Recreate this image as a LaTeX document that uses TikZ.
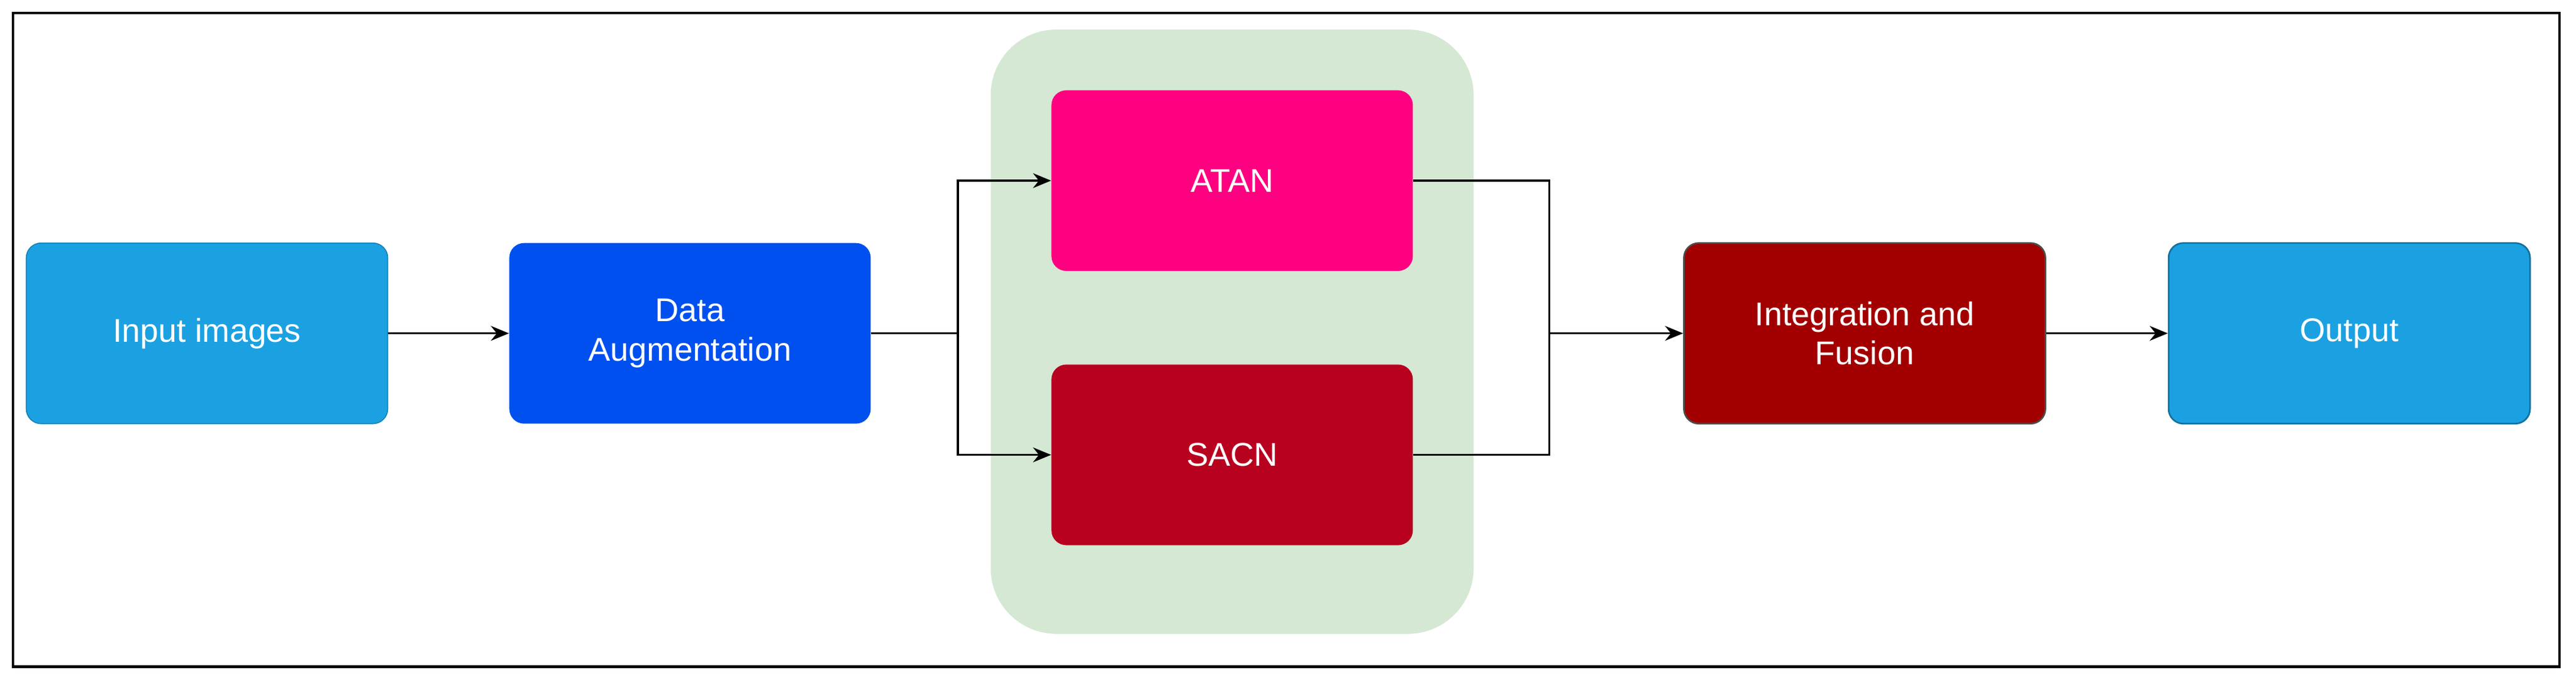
\documentclass[tikz,border=0pt]{standalone}
\usepackage{fontspec}
\setmainfont{Liberation Sans}
\usetikzlibrary{arrows.meta}
\definecolor{lblue}{HTML}{1BA1E2}
\definecolor{dblue}{HTML}{0050EF}
\definecolor{pink}{HTML}{FF0080}
\definecolor{crim}{HTML}{B8001F}
\definecolor{dred}{HTML}{A20000}
\definecolor{bgg}{HTML}{D5E8D4}
\begin{document}
\begin{tikzpicture}[x=1pt,y=-1pt,
 box/.style={rounded corners=9pt,minimum width=220pt,minimum height=110pt,text=white,font=\fontsize{20}{24}\selectfont,align=center,inner sep=0pt},
 arr/.style={-{Stealth[length=11pt,width=9pt]},line width=1.2pt},
 ln/.style={line width=1.2pt}]
\useasboundingbox (0,0) rectangle (1568,414);
\draw[line width=1.6pt] (8,8) rectangle (1558,406);
\fill[bgg,rounded corners=40pt] (603,18) rectangle (897,386);
\node[box,fill=lblue,draw=lblue!80!black,line width=0.6pt] (in) at (126,203) {Input images};
\node[box,fill=dblue] (da) at (420,203) {Data\\Augmentation};
\node[box,fill=pink] (atan) at (750,110) {ATAN};
\node[box,fill=crim] (sacn) at (750,277) {SACN};
\node[box,fill=dred,draw=black!70,line width=1pt] (if) at (1135,203) {Integration and\\Fusion};
\node[box,fill=lblue,draw=lblue!70!black,line width=1pt] (out) at (1430,203) {Output};
\coordinate (s) at (583,203);
\coordinate (m) at (943,203);
\draw[arr] (in) -- (da);
\draw[ln] (da) -- (s);
\draw[arr] (s) |- (atan);
\draw[arr] (s) |- (sacn);
\draw[ln] (atan) -| (m);
\draw[ln] (sacn) -| (m);
\draw[arr] (m) -- (if);
\draw[arr] (if) -- (out);
\end{tikzpicture}
\end{document}
